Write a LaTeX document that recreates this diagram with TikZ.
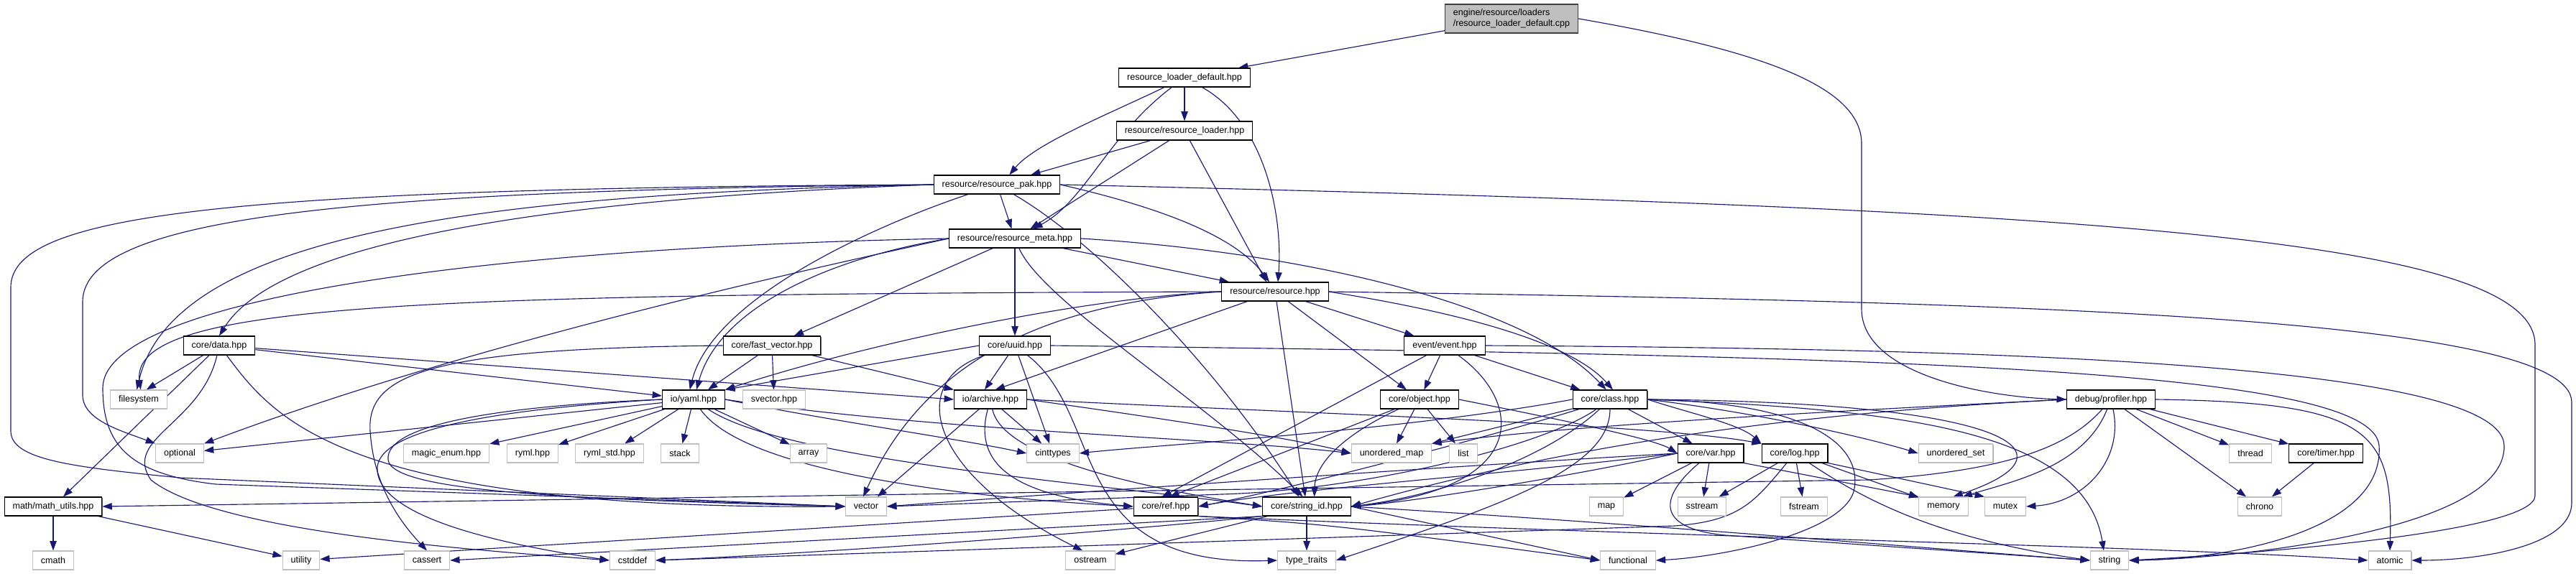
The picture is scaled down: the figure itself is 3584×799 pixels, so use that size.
\documentclass[tikz,border=0pt]{standalone}
\usepackage{fontspec}
\newfontfamily\gf{Liberation Sans}
\usetikzlibrary{arrows.meta,shadows}
\pgfdeclarelayer{bg}
\pgfsetlayers{bg,main}
\definecolor{edgec}{HTML}{191970}
\definecolor{extb}{HTML}{BFBFBF}
\definecolor{mainf}{HTML}{BFBFBF}
\definecolor{mainb}{HTML}{404040}
\begin{document}
\begin{tikzpicture}[x=0.75pt,y=-0.75pt,
  box/.style={font=\gf\fontsize{9.4}{11}\selectfont, minimum height=19.5pt, inner xsep=8.6pt, inner ysep=0pt, fill=white, line width=0.8pt},
  doc/.style={box, draw=black, general shadow={fill=black!65, shadow xshift=0.5pt, shadow yshift=-0.9pt}},
  ext/.style={box, draw=extb, general shadow={fill=black!30, shadow xshift=0.5pt, shadow yshift=-0.9pt}},
  e/.style={draw=edgec, line width=0.85pt, -{Triangle[length=10pt,width=7pt]}}
]
\useasboundingbox (0,0) rectangle (3584,799);

% nodes
\node[box, draw=mainb, fill=mainf, align=left, minimum height=30pt, general shadow={fill=black!65, shadow xshift=0.5pt, shadow yshift=-0.9pt}] (main) at (2103,26) {engine/resource/loaders\\/resource\_loader\_default.cpp};
\node[doc] (rld) at (1648,108) {resource\_loader\_default.hpp};
\node[doc] (rl) at (1648,182) {resource/resource\_loader.hpp};
\node[doc] (pak) at (1387,257) {resource/resource\_pak.hpp};
\node[doc] (meta) at (1412,332) {resource/resource\_meta.hpp};
\node[doc] (res) at (1774,406) {resource/resource.hpp};
\node[doc] (datan) at (305,481) {core/data.hpp};
\node[doc] (fv) at (1074,481) {core/fast\_vector.hpp};
\node[doc] (uuid) at (1412,481) {core/uuid.hpp};
\node[doc] (event) at (2010,481) {event/event.hpp};
\node[ext] (fs) at (193,556) {filesystem};
\node[doc] (yaml) at (965,556) {io/yaml.hpp};
\node[ext] (svec) at (1077,556) {svector.hpp};
\node[doc] (archive) at (1378,556) {io/archive.hpp};
\node[doc] (object) at (1975,556) {core/object.hpp};
\node[doc] (class) at (2240,556) {core/class.hpp};
\node[doc] (prof) at (2937,556) {debug/profiler.hpp};
\node[ext] (optional) at (250,631) {optional};
\node[ext] (magic) at (621,631) {magic\_enum.hpp};
\node[ext] (ryml) at (741,631) {ryml.hpp};
\node[ext] (rymlstd) at (848,631) {ryml\_std.hpp};
\node[ext] (stack) at (946,631) {stack};
\node[ext] (array) at (1125,631) {array};
\node[ext] (cinttypes) at (1465,631) {cinttypes};
\node[ext] (umap) at (1936,631) {unordered\_map};
\node[ext] (list) at (2036,631) {list};
\node[doc] (var) at (2380,631) {core/var.hpp};
\node[doc] (log) at (2497,631) {core/log.hpp};
\node[ext] (uset) at (2721,631) {unordered\_set};
\node[ext] (thread) at (3131,631) {thread};
\node[doc] (timer) at (3236,631) {core/timer.hpp};
\node[doc] (math) at (74,705) {math/math\_utils.hpp};
\node[ext] (vector) at (1205,705) {vector};
\node[doc] (ref) at (1622,705) {core/ref.hpp};
\node[doc] (sid) at (1818,705) {core/string\_id.hpp};
\node[ext] (map) at (2235,705) {map};
\node[ext] (sstream) at (2368,705) {sstream};
\node[ext] (fstream) at (2510,705) {fstream};
\node[ext] (memory) at (2704,705) {memory};
\node[ext] (mutex) at (2790,705) {mutex};
\node[ext] (chrono) at (3144,705) {chrono};
\node[ext] (cmath) at (74,780) {cmath};
\node[ext] (utility) at (419,780) {utility};
\node[ext] (cassert) at (594,780) {cassert};
\node[ext] (cstddef) at (880,780) {cstddef};
\node[ext] (ostream) at (1517,780) {ostream};
\node[ext] (ttraits) at (1818,780) {type\_traits};
\node[ext] (functional) at (2265,780) {functional};
\node[ext] (string) at (2935,780) {string};
\node[ext] (atomic) at (3325,780) {atomic};

\begin{pgfonlayer}{bg}
% top levels
\draw[e] (main) -- (rld);
\draw[e] (main.east) .. controls (2450,70) and (2590,120) .. (2590,200) -- (2590,430) .. controls (2590,520) and (2760,553) .. (prof.west);
\draw[e] (rld) -- (rl);
\draw[e] (rld) .. controls (1540,160) and (1440,200) .. ([xshift=13pt]pak.north);
\draw[e] (rld) .. controls (1540,190) and (1510,280) .. ([xshift=19pt]meta.north);
\draw[e] (rld) .. controls (1760,170) and (1785,300) .. ([xshift=3pt]res.north);
\draw[e] (rl) -- (pak);
\draw[e] (rl) -- (meta);
\draw[e] (rl) -- ([xshift=-9pt]res.north);
% pak
\draw[e] (pak) -- (meta);
\draw[e] (pak.east) .. controls (1620,290) and (1720,330) .. ([xshift=-6pt]res.north);
\draw[e] (pak) .. controls (1530,340) and (1700,520) .. ([xshift=-8pt]sid.north);
\draw[e] (pak.east) .. controls (2900,290) and (3527,330) .. (3527,480) -- (3527,690) .. controls (3527,740) and (3150,770) .. (string.east);
\draw[e] (pak.west) .. controls (800,275) and (390,330) .. (datan.north);
\draw[e] (pak.west) .. controls (650,270) and (240,330) .. ([xshift=-2pt]fs.north);
\draw[e] (pak.west) .. controls (500,265) and (115,300) .. (115,420) -- (115,550) .. controls (115,585) and (170,600) .. (optional.north west);
\draw[e] (pak.west) .. controls (300,262) and (15,300) .. (15,400) -- (15,600) .. controls (15,640) and (100,650) .. (250,665) -- (vector.west);
\draw[e] (pak) .. controls (1200,320) and (990,420) .. ([xshift=-4pt]yaml.north);
% meta
\draw[e] (meta) -- (uuid);
\draw[e] (meta) -- (fv);
\draw[e] (meta.west) .. controls (1150,360) and (1000,430) .. ([xshift=3pt]yaml.north);
\draw[e] (meta.west) .. controls (1100,380) and (650,480) .. (optional.north east);
\draw[e] (meta.west) .. controls (650,345) and (143,420) .. (143,540) .. controls (143,620) and (180,660) .. (300,674) -- (vector.west);
\draw[e] (meta) -- ([xshift=-48pt]res.north);
\draw[e] (meta.east) .. controls (1800,350) and (2120,420) .. ([xshift=-4pt]class.north);
\draw[e] (meta) .. controls (1450,420) and (1680,560) .. ([xshift=-4pt]sid.north);
% resource
\draw[e] (res) -- (event);
\draw[e] (res) -- (object);
\draw[e] (res) -- ([xshift=5pt]archive.north);
\draw[e] (res) -- (sid);
\draw[e] (res.east) .. controls (2000,430) and (2180,470) .. ([xshift=3pt]class.north);
\draw[e] (res.west) .. controls (1500,415) and (1200,480) .. (yaml.north east);
\draw[e] (res.west) .. controls (600,410) and (180,420) .. ([xshift=2pt]fs.north);
\draw[e] (res.west) .. controls (1400,425) and (1270,540) .. ([xshift=-3pt]vector.north);
\draw[e] (res.east) .. controls (2800,420) and (3578,440) .. (3578,560) -- (3578,700) .. controls (3578,760) and (3450,780) .. (atomic.east);
% uuid
\draw[e] (uuid) -- ([xshift=-6pt]archive.north);
\draw[e] (uuid) -- (cinttypes);
\draw[e] (uuid) .. controls (1260,530) and (1290,660) .. ([xshift=-8pt]ostream.north);
\draw[e] (uuid) .. controls (1540,580) and (1480,790) .. (ttraits.west);
\draw[e] (uuid.west) -- (yaml.north east);
\draw[e] (uuid.east) .. controls (2600,495) and (3300,510) .. (3310,620) .. controls (3318,740) and (3100,778) .. (string.east);
% event
\draw[e] (event) -- (object);
\draw[e] (event) -- (class);
\draw[e] (event) -- ([xshift=-4pt]ref.north);
\draw[e] (event) .. controls (2120,560) and (2130,680) .. (sid.east);
\draw[e] (event.east) .. controls (2700,485) and (3480,500) .. (3484,620) .. controls (3488,740) and (3100,778) .. (string.east);
% fast_vector
\draw[e] (fv) -- ([xshift=15pt]yaml.north);
\draw[e] (fv) -- (svec);
\draw[e] (fv) -- (archive.north west);
\draw[e] (fv.west) .. controls (600,485) and (510,520) .. (515,600) .. controls (520,680) and (560,730) .. (cassert.north);
% data
\draw[e] (datan) -- ([xshift=8pt]fs.north);
\draw[e] (datan) -- (math);
\draw[e] (datan) .. controls (280,590) and (170,610) .. (210,668) .. controls (300,740) and (650,765) .. (cstddef.west);
\draw[e] (datan) -- (yaml);
\draw[e] (datan) -- (archive.west);
\draw[e] (datan) .. controls (380,580) and (470,710) .. (vector.west);
% yaml
\draw[e] (yaml) -- (rymlstd);
\draw[e] (yaml) -- (stack);
\draw[e] (yaml) -- (array);
\draw[e] (yaml) -- (magic);
\draw[e] (yaml) -- (ryml);
\draw[e] (yaml) -- (optional);
\draw[e] (yaml.west) .. controls (700,565) and (535,590) .. (540,640) .. controls (545,685) and (800,695) .. (vector.west);
\draw[e] (yaml.west) .. controls (680,570) and (520,600) .. (525,655) .. controls (530,730) and (750,765) .. (cstddef.west);
\draw[e] (yaml.east) .. controls (1150,585) and (1330,610) .. (cinttypes.west);
\draw[e] (yaml.east) .. controls (1300,600) and (1700,610) .. (umap.west);
\draw[e] (yaml) .. controls (1030,650) and (1300,690) .. (ref.west);
\draw[e] (yaml) .. controls (1090,640) and (1500,670) .. (sid.west);
% archive
\draw[e] (archive) -- (cinttypes);
\draw[e] (archive) -- (vector);
\draw[e] (archive) .. controls (1355,640) and (1400,690) .. (ref.west);
\draw[e] (archive) .. controls (1395,640) and (1600,680) .. (sid.west);
\draw[e] (archive.east) .. controls (1600,580) and (1800,610) .. (umap.west);
\draw[e] (archive.east) .. controls (1800,575) and (2300,590) .. (log.north west);
% object
\draw[e] (object) -- (umap);
\draw[e] (object) -- (list);
\draw[e] (object) -- ([xshift=4pt]ref.north);
\draw[e] (object) .. controls (1880,600) and (1830,640) .. ([xshift=8pt]sid.north);
\draw[e] (object.east) .. controls (2150,580) and (2300,610) .. (var.west);
% class
\draw[e] (class) -- (umap.north east);
\draw[e] (class.west) .. controls (1950,600) and (1600,620) .. (cinttypes.east);
\draw[e] (class) .. controls (2100,600) and (1800,680) .. (ref.east);
\draw[e] (class) .. controls (2150,640) and (2000,690) .. (sid.east);
\draw[e] (class) .. controls (2240,650) and (2100,700) .. (ttraits.east);
\draw[e] (class) -- (var);
\draw[e] (class.east) .. controls (2350,575) and (2420,590) .. (log.north west);
\draw[e] (class.east) .. controls (2450,575) and (2600,610) .. (uset.west);
\draw[e] (class.east) .. controls (2800,560) and (2900,630) .. ([xshift=10pt]memory.north);
\draw[e] (class.east) .. controls (2650,570) and (2900,600) .. ([xshift=-6pt]string.north);
\draw[e] (class.east) .. controls (2520,560) and (2590,620) .. (2580,680) .. controls (2570,740) and (2400,775) .. (functional.east);
\draw[e] (class) .. controls (2150,620) and (1900,682) .. (1700,688) -- (vector.east);
% var
\draw[e] (var) -- (map);
\draw[e] (var) -- (sstream);
\draw[e] (var.west) .. controls (2100,660) and (1800,680) .. (ref.east);
\draw[e] (var.west) .. controls (2150,670) and (1950,700) .. (sid.east);
\draw[e] (var.west) .. controls (2000,650) and (1500,685) .. (vector.east);
\draw[e] (var.south east) -- (memory.north west);
\draw[e] (var) .. controls (2310,690) and (2300,735) .. (2400,745) -- (string.west);
% log
\draw[e] (log) -- (sstream);
\draw[e] (log) -- (fstream);
\draw[e] (log) -- (memory);
\draw[e] (log.south east) -- (mutex.north west);
\draw[e] (log) .. controls (2600,700) and (2700,750) .. (string.west);
\draw[e] (log) .. controls (2440,700) and (2420,725) .. (2330,732) -- (cstddef.east);
% ref
\draw[e] (ref) -- (utility);
\draw[e] (ref.south east) .. controls (1850,730) .. (functional.west);
\draw[e] (ref.south east) .. controls (2400,750) and (3000,760) .. (atomic.west);
% string_id
\draw[e] (sid) -- (ttraits);
\draw[e] (sid) -- (ostream);
\draw[e] (sid.east) -- (functional.west);
\draw[e] (sid.east) .. controls (2300,730) and (2700,765) .. (string.west);
\draw[e] (sid.south west) -- (cassert.east);
\draw[e] (sid.south west) .. controls (1500,745) and (1100,772) .. (cstddef.east);
% profiler
\draw[e] (prof) -- (thread);
\draw[e] (prof) -- (timer);
\draw[e] (prof) -- (chrono);
\draw[e] (prof) .. controls (2900,650) and (2800,670) .. ([xshift=20pt]memory.north);
\draw[e] (prof) .. controls (2955,640) and (2900,700) .. (mutex.east);
\draw[e] (prof.west) .. controls (2600,570) and (2200,590) .. (umap.north east);
\draw[e] (prof.west) .. controls (2600,570) and (2250,600) .. (sid.east);
\draw[e] (prof) .. controls (2880,620) and (2800,655) .. (2600,668) -- (math.east);
\draw[e] (prof.east) .. controls (3300,560) and (3330,600) .. (atomic.north);
% others
\draw[e] (timer) -- (chrono);
\draw[e] (math) -- (cmath);
\draw[e] (math) -- (utility);
\end{pgfonlayer}
\end{tikzpicture}
\end{document}
